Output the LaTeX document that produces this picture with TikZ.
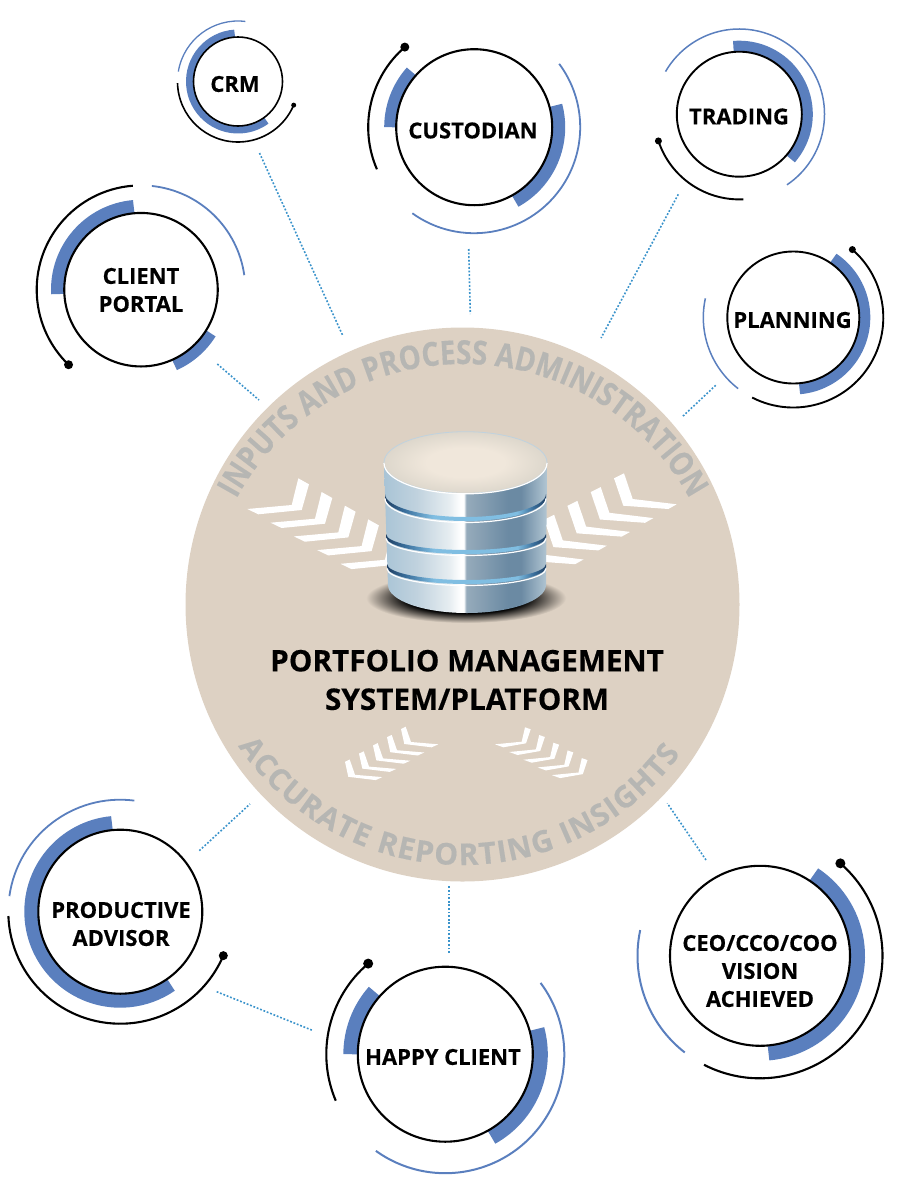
\documentclass[tikz,border=0pt]{standalone}
\usepackage{fontspec}
\setmainfont[BoldFeatures={FakeBold=0.4}]{Open Sans}
\newfontfamily\arcfamily[FakeStretch=0.84, BoldFeatures={FakeBold=0.4}]{Open Sans}
\usetikzlibrary{decorations.text}
\definecolor{hubfill}{HTML}{DDD1C3}
\definecolor{ringblue}{HTML}{5A7FBE}
\definecolor{linkblue}{HTML}{3A93CB}
\definecolor{arcgray}{HTML}{B6B6B3}
\definecolor{bodya}{HTML}{A9C4D6}
\definecolor{bodyb}{HTML}{C0D2DE}
\definecolor{bodyc}{HTML}{E6EDF1}
\definecolor{bodyd}{HTML}{96ABBB}
\definecolor{bodye}{HTML}{6B8AA3}
\definecolor{bodyf}{HTML}{B2C6D3}
\definecolor{groovea}{HTML}{1F3F63}
\definecolor{grooveb}{HTML}{3A6F9C}
\definecolor{groovec}{HTML}{80BEE2}
\definecolor{lida}{HTML}{F0E7DB}
\definecolor{lidb}{HTML}{DDD7CC}
\pgfdeclarehorizontalshading{bodyshade}{100bp}{color(0bp)=(bodya); color(25bp)=(bodya); color(35bp)=(bodyb); color(45bp)=(bodyc); color(48.5bp)=(white); color(49.5bp)=(white); color(50.2bp)=(bodyd); color(63bp)=(bodye); color(67bp)=(bodye); color(75bp)=(bodyf); color(100bp)=(bodyf)}
\pgfdeclarehorizontalshading{grooveshade}{100bp}{color(0bp)=(groovea); color(25bp)=(groovea); color(31bp)=(grooveb); color(40bp)=(groovec); color(66bp)=(groovec); color(71bp)=(grooveb); color(75bp)=(groovea); color(100bp)=(groovea)}
\pgfdeclareradialshading{glowshade}{\pgfpoint{0bp}{0bp}}{color(0bp)=(black); color(15bp)=(black); color(25bp)=(hubfill); color(50bp)=(hubfill)}
\pgfdeclareradialshading{lidshade}{\pgfpoint{0bp}{0bp}}{color(0bp)=(lida); color(12bp)=(lida); color(25bp)=(lidb); color(50bp)=(lidb)}
\newcommand{\arcfont}{\arcfamily\fontsize{33}{33}\selectfont\bfseries\color{arcgray}}
\newcommand{\lowarcfont}{\fontsize{30}{30}\selectfont\bfseries\color{arcgray}}
\tikzset{
	hubdisc/.style={circle, fill=hubfill, inner sep=0pt, minimum size=554pt},
	ringnode/.style={circle, draw=black, fill=white, line width=2.1pt, inner sep=0pt},
	ringtext/.style={align=center, font=\fontsize{22}{28}\selectfont\bfseries},
	bandarc/.style={color=ringblue},
	bluearc/.style={color=ringblue, line width=1.8pt},
	blackarc/.style={color=black, line width=2.1pt},
	enddot/.style={circle, fill=black, inner sep=0pt, minimum size=#1},
	dotline/.style={color=linkblue, line width=1.6pt, dash pattern=on 1.8pt off 1.8pt},
	chevron/.style={fill=white}
}
\begin{document}
\begin{tikzpicture}[x=1pt, y=1pt]
	\useasboundingbox (0,0) rectangle (900,-1189);
	% centre disc
	\node [hubdisc] (hub) at (462.5,-604.5) {};
	\foreach \i in {0,...,4} {
		\fill [chevron, shift={(23.3*\i,-13.7*\i)}] (247.3,-509) -- (291.7,-505) -- (298.3,-478.3) -- (309,-484.3) -- (301.7,-510) -- (258.3,-514.3) -- cycle;
		\fill [chevron, shift={(-23.3*\i,-13.8*\i)}] (614,-478.3) -- (624,-473.3) -- (632.7,-499) -- (676.7,-504.3) -- (668.3,-509) -- (623.3,-505.7) -- cycle;
		\fill [chevron, shift={(-14*\i,-8.2*\i)}] (401,-729) -- (405.7,-726.7) -- (411,-742) -- (438.3,-744.3) -- (431.7,-747.3) -- (404.3,-744) -- cycle;
		\fill [chevron, shift={(14.2*\i,-7.7*\i)}] (495,-744.3) -- (521.7,-741.7) -- (525,-727.3) -- (530.7,-729.3) -- (526,-743.3) -- (503.3,-747.3) -- cycle;
	}
	\coordinate (uppermid) at (463,-622);
	\coordinate (lowermid) at (462,-595);
	\path [decorate, decoration={text along path, text align={fit to path}, text={|\arcfont|INPUTS AND PROCESS ADMINISTRATION}}] ([shift={(151.5:258)}]uppermid) arc (151.5:28.5:258);
	\path [decorate, decoration={text along path, text align={fit to path}, text={|\lowarcfont|ACCURATE REPORTING INSIGHTS}}] ([shift={(214:270)}]lowermid) arc (214:324:270);
	% database
	\shade [shading=glowshade] (466,-598) ellipse (100 and 25);
	\shade [shading=bodyshade] (384,-463) -- (388,-585) arc (180:360:79 and 28) -- (547,-463) arc (0:180:81.5 and 30.8);
	\foreach \gl/\grx/\gy/\gs in {385/80.5/497/24, 386/80/537/17, 387/79.5/567/17} {
		\shade [shading=grooveshade] (\gl,-\gy) arc (180:360:{\grx} and {\gs}) -- ++(0,3) arc (360:180:{\grx} and {\gs-1}) -- cycle;
		\draw [white, line width=1.2pt] (\gl,-\gy-1.5) arc (180:360:{\grx} and {\gs});
	}
	\shade [shading=lidshade] (465.5,-462.5) ellipse (81.5 and 30.8);
	\draw [color=bodyb, line width=0.8pt] (465.5,-462.5) ellipse (81.5 and 30.8);
	\draw [white, line width=1.2pt] (384,-463) arc (180:360:81.5 and 30.8);
	\node [align=center, font=\fontsize{29.7}{38.5}\selectfont\bfseries] (hubtext) at (467,-680) {PORTFOLIO MANAGEMENT\\SYSTEM/PLATFORM};
	% CRM
	\draw [bandarc, line width=8pt] ([shift={(94:48)}]238,-81.5) arc (94:306:48);
	\draw [bluearc, line width=1.3pt] ([shift={(83:60.5)}]238,-81.5) arc (83:170.5:60.5);
	\draw [blackarc, line width=1.6pt] ([shift={(181.5:60.5)}]238,-81.5) arc (181.5:337:60.5) node [enddot=5pt] (crmdot) {};
	\node [ringnode, minimum size=89pt, line width=1.6pt] (crm) at (238,-81.5) {};
	\node [ringtext] (crmtext) at (235,-84) {CRM};
	% client portal
	\draw [bandarc, line width=13pt] ([shift={(95:83.5)}]141,-289.7) arc (95:183:83.5);
	\draw [bandarc, line width=11pt] ([shift={(294:82.5)}]141,-289.7) arc (294:328:82.5);
	\draw [bluearc] ([shift={(8:104.3)}]141,-289.7) arc (8:84:104.3);
	\draw [blackarc] ([shift={(94.5:104.3)}]141,-289.7) arc (94.5:226:104.3) node [enddot=9pt] (portaldot) {};
	\node [ringnode, minimum size=153.5pt] (portal) at (141,-289.7) {};
	\node [ringtext] (portaltext) at (141,-290) {CLIENT\\PORTAL};
	% custodian
	\draw [bandarc, line width=12pt] ([shift={(138.4:84)}]474.2,-127.2) arc (138.4:180:84);
	\draw [bandarc, line width=13pt] ([shift={(-61:84.5)}]474.2,-127.2) arc (-61:15:84.5);
	\draw [bluearc] ([shift={(-125.7:106)}]474.2,-127.2) arc (-125.7:36.7:106);
	\draw [blackarc] ([shift={(203.4:106)}]474.2,-127.2) arc (203.4:130.9:106) node [enddot=9pt] (custodiandot) {};
	\node [ringnode, minimum size=156pt] (custodian) at (474.2,-127.2) {};
	\node [ringtext] (custodiantext) at (473,-130.5) {CUSTODIAN};
	% trading
	\draw [bandarc, line width=11pt] ([shift={(-41:68)}]739.3,-114.2) arc (-41:95:68);
	\draw [bluearc, line width=1.5pt] ([shift={(-56:85.2)}]739.3,-114.2) arc (-56:150:85.2);
	\draw [blackarc, line width=1.9pt] ([shift={(272.7:85.2)}]739.3,-114.2) arc (272.7:198.3:85.2) node [enddot=7pt] (tradingdot) {};
	\node [ringnode, minimum size=125pt, line width=1.9pt] (trading) at (739.3,-114.2) {};
	\node [ringtext] (tradingtext) at (739,-116.5) {TRADING};
	% planning
	\draw [bandarc, line width=11pt] ([shift={(-85:71.5)}]793.3,-317.5) arc (-85:56:71.5);
	\draw [bluearc, line width=1.5pt] ([shift={(167.7:90)}]793.3,-317.5) arc (167.7:232.2:90);
	\draw [blackarc, line width=1.9pt] ([shift={(-117.2:90)}]793.3,-317.5) arc (-117.2:49:90) node [enddot=7pt] (planningdot) {};
	\node [ringnode, minimum size=132pt, line width=1.9pt] (planning) at (793.3,-317.5) {};
	\node [ringtext] (planningtext) at (792.5,-320) {PLANNING};
	% productive advisor
	\draw [bandarc, line width=14pt] ([shift={(95.4:89)}]120.3,-911.7) arc (95.4:304.7:89);
	\draw [bluearc] ([shift={(82.8:112)}]120.3,-911.7) arc (82.8:172:112);
	\draw [blackarc] ([shift={(182.2:112)}]120.3,-911.7) arc (182.2:336.9:112) node [enddot=9pt] (advisordot) {};
	\node [ringnode, minimum size=164pt] (advisor) at (120.3,-911.7) {};
	\node [ringtext] (advisortext) at (121,-924) {PRODUCTIVE\\ADVISOR};
	% happy client
	\draw [bandarc, line width=14.5pt] ([shift={(138.5:94.7)}]445.3,-1054.2) arc (138.5:180:94.7);
	\draw [bandarc, line width=15pt] ([shift={(-60.9:95)}]445.3,-1054.2) arc (-60.9:15.4:95);
	\draw [bluearc, line width=2pt] ([shift={(-125.7:119)}]445.3,-1054.2) arc (-125.7:36.8:119);
	\draw [blackarc] ([shift={(203:119)}]445.3,-1054.2) arc (203:130.4:119) node [enddot=10pt] (happydot) {};
	\node [ringnode, minimum size=175pt] (happy) at (445.3,-1054.2) {};
	\node [ringtext] (happytext) at (443,-1057) {HAPPY CLIENT};
	% vision achieved
	\draw [bandarc, line width=15pt] ([shift={(-85:97.5)}]760,-955.8) arc (-85:56.5:97.5);
	\draw [bluearc, line width=2pt] ([shift={(167.9:122.5)}]760,-955.8) arc (167.9:232.1:122.5);
	\draw [blackarc] ([shift={(-117.2:122.5)}]760,-955.8) arc (-117.2:49:122.5) node [enddot=10pt] (visiondot) {};
	\node [ringnode, minimum size=180pt] (vision) at (760,-955.8) {};
	\node [ringtext] (visiontext) at (760,-971) {CEO/CCO/COO\\VISION\\ACHIEVED};
	% links
	\coordinate (crmend) at (259.5,-153);
	\coordinate (crmhub) at (342.5,-335);
	\coordinate (custodianend) at (468.7,-249);
	\coordinate (custodianhub) at (470.3,-314);
	\coordinate (tradingend) at (678.3,-194.3);
	\coordinate (tradinghub) at (601,-338);
	\coordinate (planningend) at (715.7,-385.3);
	\coordinate (planninghub) at (681.7,-417.3);
	\coordinate (portalend) at (217.3,-364);
	\coordinate (portalhub) at (259,-400);
	\coordinate (advisorend) at (199.3,-850.7);
	\coordinate (advisorhub) at (250,-804);
	\coordinate (advisorside) at (216.7,-991.7);
	\coordinate (happyside) at (313.3,-1030.7);
	\coordinate (happyend) at (448.7,-953);
	\coordinate (happyhub) at (448.7,-885);
	\coordinate (visionend) at (706,-860);
	\coordinate (visionhub) at (667.3,-803.3);
	\draw [dotline] (crmend) -- (crmhub);
	\draw [dotline] (custodianend) -- (custodianhub);
	\draw [dotline] (tradingend) -- (tradinghub);
	\draw [dotline] (planningend) -- (planninghub);
	\draw [dotline] (portalend) -- (portalhub);
	\draw [dotline] (advisorend) -- (advisorhub);
	\draw [dotline] (advisorside) -- (happyside);
	\draw [dotline] (happyend) -- (happyhub);
	\draw [dotline] (visionend) -- (visionhub);
\end{tikzpicture}
\end{document}
